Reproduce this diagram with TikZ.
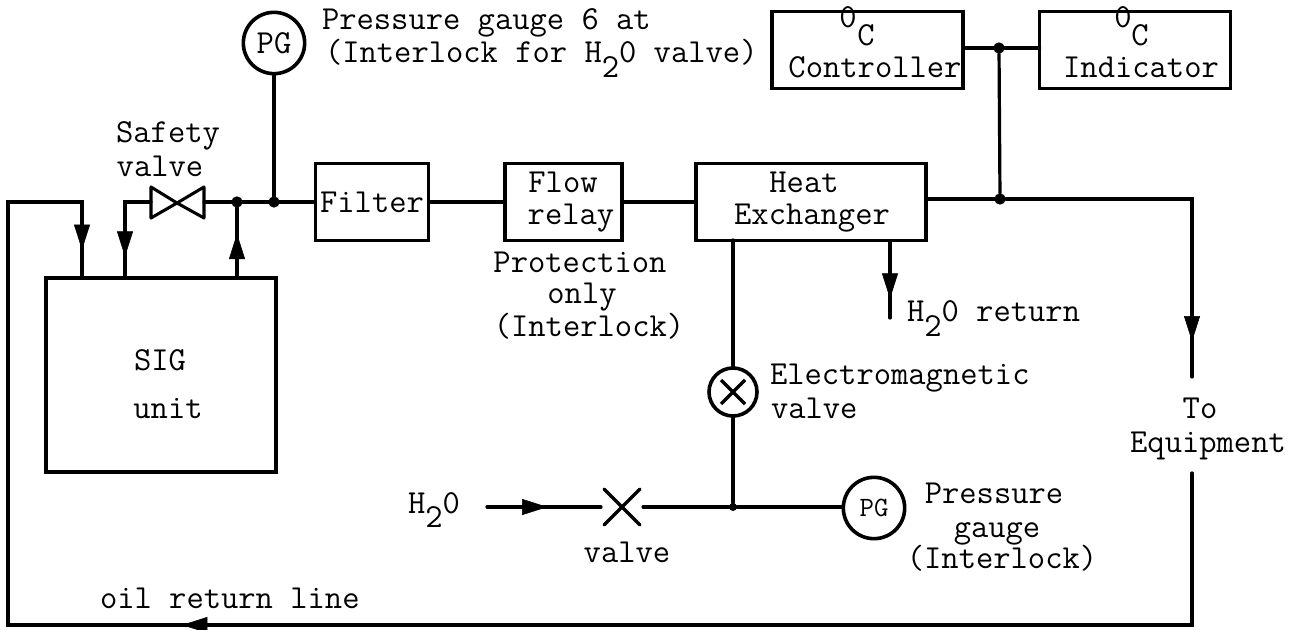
\documentclass[tikz,border=0pt]{standalone}
\usetikzlibrary{arrows.meta,decorations.markings}
\newcommand\htwo{H\raisebox{-0.42em}{2}0}
\tikzset{
  pipe/.style={line width=2.4pt,line cap=round,line join=miter},
  boxn/.style={draw,line width=2.6pt,inner sep=0pt,outer sep=0pt,align=center},
  gauge/.style={draw,circle,line width=2.7pt,inner sep=0pt,outer sep=0pt,minimum size=46pt},
  lbl/.style={inner sep=0pt,outer sep=0pt,align=center,anchor=base},
  lblw/.style={inner sep=0pt,outer sep=0pt,anchor=base west},
  dotn/.style={circle,fill=black,inner sep=0pt,outer sep=0pt,minimum size=8.5pt},
  flowmark/.style={postaction={decorate},decoration={markings,mark=at position #1 with {\arrow{Triangle[length=19pt,width=12pt]}}}}
}
\begin{document}
\begin{tikzpicture}[x=0.75pt,y=-0.75pt,font=\ttfamily\fontsize{25.2}{28}\selectfont]
\useasboundingbox (0,0) rectangle (1298,630);
\fill[white] (0,0) rectangle (1298,630);
% boxes
\node[boxn,minimum width=172.5pt,minimum height=145.5pt] (sig) at (161,375) {};
\node[boxn,minimum width=85pt,minimum height=58pt] (filter) at (372,202) {Filter};
\node[boxn,minimum width=87.75pt,minimum height=58pt] (relay) at (563.5,202) {};
\node[boxn,minimum width=172.5pt,minimum height=58pt] (hx) at (811,202) {};
\node[boxn,minimum width=143.25pt,minimum height=58pt] (ctrl) at (867.5,50) {};
\node[boxn,minimum width=143pt,minimum height=58pt] (ind) at (1135,50) {};
\node[lbl] (st) at (160,371) {SIG};
\node[lbl] (su) at (168,418) {unit};
\node[lbl] (rt) at (563,193) {Flow};
\node[lbl] (ru) at (571,225) {relay};
\node[lbl] (ht) at (804,193) {Heat};
\node[lbl] (hu) at (812,225) {Exchanger};
\node[lbl] (c0) at (848,28) {0};
\node[lbl] (c1) at (866,46) {C};
\node[lbl] (ct) at (875,78) {Controller};
\node[lbl] (i0) at (1123,28) {0};
\node[lbl] (i1) at (1140,46) {C};
\node[lbl] (it) at (1141,78) {Indicator};
% gauges and valves
\node[gauge] (pg1) at (274,43) {PG};
\node[gauge,font=\ttfamily\fontsize{21}{24}\selectfont] (pg2) at (874,508) {PG};
\node[gauge,minimum size=36pt] (em) at (733,392) {};
\draw[line width=2.6pt] (em.center) ++(-12,-12) -- ++(24,24) (em.center) ++(12,-12) -- ++(-24,24);
\coordinate (sv) at (177,203);
\draw[line width=2.3pt,line join=round] (sv) -- (151,187) -- (151,218) -- (sv) -- (204,187) -- (204,218) -- cycle;
\coordinate (wv) at (622,507);
\draw[line width=2.6pt,line cap=round] (604,489) -- (640,525) (640,489) -- (604,525);
% junctions
\node[dotn] (j1) at (237,202) {};
\node[dotn] (j2) at (274,202) {};
\node[dotn] (j3) at (1000,199) {};
\node[dotn] (j4) at (999,48) {};
\node[dotn,minimum size=6pt] (j5) at (733,507) {};
% free ends
\coordinate (svl) at (151,202);
\coordinate (svr) at (204,202);
\coordinate (a) at (125,202);
\coordinate (a2) at (125,278);
\coordinate (b2) at (237,278);
\coordinate (r0) at (82,278);
\coordinate (r1) at (82,202);
\coordinate (r2) at (8,202);
\coordinate (r3) at (8,625);
\coordinate (r4) at (1192,625);
\coordinate (r5) at (1192,473);
\coordinate (eq1) at (1192,199);
\coordinate (eq2) at (1192,377);
\coordinate (ret1) at (890,241);
\coordinate (ret2) at (890,318);
\coordinate (h1) at (487,507);
\coordinate (h2) at (601,507);
\coordinate (v2) at (643,507);
% connectors
\draw[pipe] (pg1) -- (j2);
\draw[pipe] (svr) -- (j1) -- (j2) -- (filter);
\draw[pipe] (filter) -- (relay);
\draw[pipe] (relay) -- (hx);
\draw[pipe] (hx.east |- j3) -- (j3);
\draw[pipe] (ctrl.east |- j4) -- (j4) -- (ind.west |- j4);
\draw[pipe] (j4) -- (j3);
\draw[pipe] (j3) -- (eq1) -- (eq2);
\path[flowmark=0.80] (eq1) -- (eq2);
\draw[pipe] (svl) -- (a) -- (a2);
\path[flowmark=0.72] (a) -- (a2);
\draw[pipe] (b2) -- (j1);
\path[flowmark=0.63] (b2) -- (j1);
\draw[pipe] (r5) -- (r4) -- (r3) -- (r2) -- (r1) -- (r0);
\path[flowmark=0.63] (r1) -- (r0);
\path[flowmark=0.853] (r4) -- (r3);
\draw[pipe] (ret1) -- (ret2);
\path[flowmark=0.75] (ret1) -- (ret2);
\draw[pipe] (733,240) -- (em);
\draw[pipe] (em) -- (j5);
\draw[pipe] (h1) -- (h2);
\path[flowmark=0.53] (h1) -- (h2);
\draw[pipe] (v2) -- (j5) -- (pg2.west |- j5);
% labels
\node[lblw] (t1) at (322,30) {Pressure gauge 6 at};
\node[lblw] (t2) at (325,63) {(Interlock for \htwo{} valve)};
\node[lbl] (t3) at (168,143) {Safety};
\node[lbl] (t4) at (160,177) {valve};
\node[lbl] (t5) at (580,273) {Protection};
\node[lbl] (t6) at (582,304) {only};
\node[lbl] (t7) at (589,337) {(Interlock)};
\node[lblw] (t8) at (907,322) {\htwo{} return};
\node[lblw] (t9) at (770,385) {Electromagnetic};
\node[lblw] (t10) at (771,418) {valve};
\node[lbl] (t11) at (1200,418) {To};
\node[lbl] (t12) at (1208,452) {Equipment};
\node[lblw] (t13) at (408,513) {\htwo};
\node[lbl] (t14) at (627,562) {valve};
\node[lbl] (t15) at (994,503) {Pressure};
\node[lbl] (t16) at (997,537) {gauge};
\node[lbl] (t17) at (1002,568) {(Interlock)};
\node[lblw] (t18) at (100,608) {oil return line};
\end{tikzpicture}
\end{document}
